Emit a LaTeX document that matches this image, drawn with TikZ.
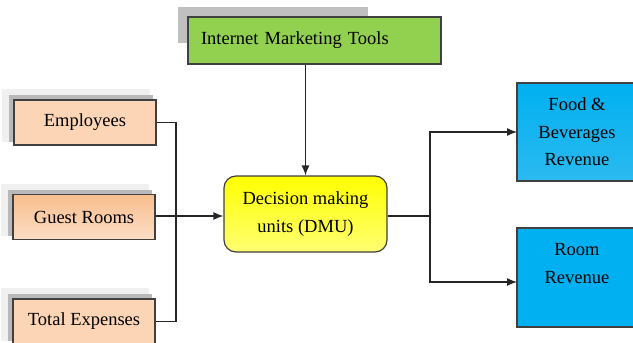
\documentclass[tikz,border=0pt]{standalone}
\usepackage{fontspec}
\setmainfont{Liberation Serif}
\usetikzlibrary{arrows.meta,calc}
\definecolor{peach}{HTML}{FBD5B5}
\definecolor{peachdark}{HTML}{F8BE8E}
\definecolor{toolgreen}{HTML}{92D050}
\definecolor{revblue}{HTML}{00B0F0}
\definecolor{revbluelight}{HTML}{2BBAF0}
\definecolor{edge}{HTML}{404040}
\definecolor{shadowgray}{HTML}{C0C0C0}
\pgfdeclarelayer{background}
\pgfsetlayers{background,main}
\tikzset{
  boxtext/.style={font=\fontsize{18.5}{27.5}\selectfont, text=black},
  inputbox/.style={boxtext, draw=edge, line width=1.2pt, minimum width=142pt,
    minimum height=45pt, inner sep=0pt},
  outbox/.style={boxtext, draw=edge, line width=1.2pt, minimum width=120pt,
    inner sep=0pt, align=center},
  wire/.style={line width=1.2pt, draw=black!85},
  arrowwire/.style={wire, -{Latex[length=10pt,width=8pt]}},
}
% soft drop shadow drawn up and to the left of a box
\newcommand{\boxshadow}[1]{%
  \fill[gray!12] ($(#1.north west)+(-11,-10)$) rectangle ($(#1.south east)+(-7,-4)$);
  \fill[gray!55] ($(#1.north west)+(-4,-4)$) rectangle ($(#1.south east)+(-4,-4)$);
}
\begin{document}
\begin{tikzpicture}[x=1pt,y=-1pt]
\useasboundingbox (0,0) rectangle (633,343);

% input boxes
\node[inputbox, fill=peach] (emp) at (85,122.5) {Employees};
\node[inputbox, top color=peachdark, bottom color=peach!80] (guest) at (84,217) {Guest Rooms};
\node[inputbox, fill=peach] (tot) at (84,321.5) {Total Expenses};
\begin{pgfonlayer}{background}
  \boxshadow{emp}
  \boxshadow{guest}
  \boxshadow{tot}
\end{pgfonlayer}

% tools box with its grey backing
\fill[shadowgray] (178,7) rectangle (368,43);
\node[boxtext, draw=edge, line width=1.2pt, fill=toolgreen, minimum width=253pt,
  minimum height=47pt, text width=227pt, inner xsep=13pt, align=left]
  (imt) at (314.5,40.5) {Internet Marketing Tools};

% decision making units
\node[boxtext, draw=edge, line width=1.2pt, rounded corners=12pt,
  top color=yellow, bottom color=yellow!55!white, minimum width=163pt,
  minimum height=76pt, align=center, inner sep=0pt]
  (dmu) at (305.5,214) {Decision making\\units (DMU)};

% output boxes
\node[outbox, top color=revblue, bottom color=revbluelight, minimum height=98pt]
  (food) at (577,132) {Food \&\\Beverages\\Revenue};
\node[outbox, fill=revblue, minimum height=99pt] (room) at (577,277.5) {};
\node[boxtext, anchor=north, align=center, inner sep=0pt] (roomtext)
  at ($(room.north)+(0,16)$) {Room\\Revenue};

% connectors on the input side
\coordinate (jl) at (176,216);
\draw[wire] (emp.east) -| (jl) |- (tot.east);
\draw[arrowwire] (guest.east |- jl) -- (dmu.west |- jl);
\draw[arrowwire] (dmu.north |- imt.south) -- (dmu.north);

% connectors on the output side
\coordinate (jr) at (430,216);
\coordinate (foodin) at (517,132);
\coordinate (roomin) at (517,282);
\draw[wire] (dmu.east |- jr) -- (jr);
\draw[arrowwire] (jr) |- (foodin);
\draw[arrowwire] (jr) |- (roomin);
\end{tikzpicture}
\end{document}
